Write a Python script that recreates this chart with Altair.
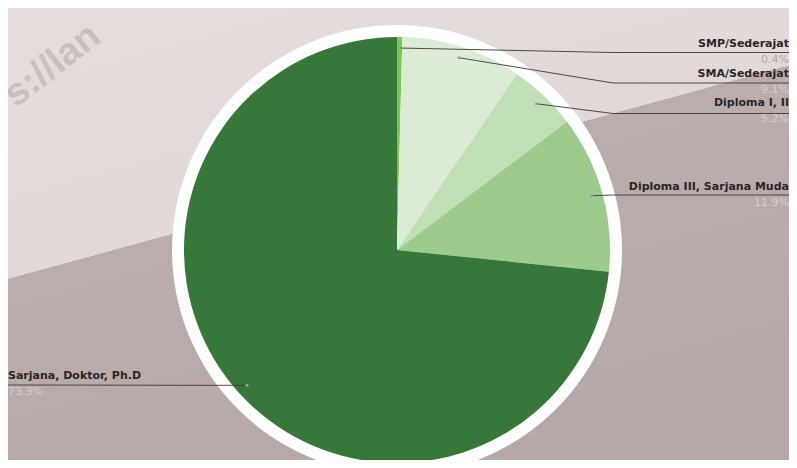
import altair as alt
import pandas as pd
import numpy as np

# ---------------- data ----------------
categories = ["SMP/Sederajat", "SMA/Sederajat", "Diploma I, II",
              "Diploma III, Sarjana Muda", "Sarjana, Doktor, Ph.D"]
percentages = [0.4, 9.1, 5.2, 11.9, 73.3]
pct_labels = ["0.4%", "9.1%", "5.2%", "11.9%", "73.3%"]
slice_colors = ["#7cc35a", "#dcebd6", "#c0dfb6", "#9ccb8c", "#38773a"]

# ---------------- layout ----------------
W, H = 781, 452
OFF = 8                       # page margin
CX, CY = 397 - OFF, 250 - OFF  # pie centre (chart px)
R = 213
RING = 225
ANCHOR_R = 202
BEND_X = 613 - OFF
RIGHT_X = W
LEFT_X = 0

label_side = ["right", "right", "right", "right", "left"]
line_y = [52.5 - OFF, 83 - OFF, 113.5 - OFF, 195 - OFF, 385 - OFF]
name_y = [44 - OFF, 74 - OFF, 103 - OFF, 187 - OFF, 376 - OFF]
pct_y = [60 - OFF, 90 - OFF, 119 - OFF, 203 - OFF, 392 - OFF]
pct_colors = ["#b3aaaa", "#d6cfcf", "#d6cfcf", "#d6cfcf", "#d3cbcb"]

FONT = "DejaVu Sans"

# ---------------- derived tables ----------------
vals = np.array(percentages)
total = vals.sum()
start = np.cumsum(vals) - vals
mid = (start + vals / 2) / total * 2 * np.pi
ax = CX + ANCHOR_R * np.sin(mid)
ay = CY - ANCHOR_R * np.cos(mid)

slices = pd.DataFrame({"category": categories, "value": percentages,
                       "idx": range(len(categories))})

seg_rows = []
for i, side in enumerate(label_side):
    if side == "right":
        seg_rows.append(dict(x=ax[i], y=ay[i], x2=BEND_X, y2=line_y[i]))
        seg_rows.append(dict(x=BEND_X, y=line_y[i], x2=RIGHT_X, y2=line_y[i]))
    else:
        seg_rows.append(dict(x=ax[i], y=ay[i], x2=LEFT_X, y2=line_y[i]))
segs = pd.DataFrame(seg_rows)

anchors = pd.DataFrame({"x": ax, "y": ay})

labels = pd.DataFrame({"name": categories, "pct": pct_labels, "side": label_side,
                       "ny": name_y, "py": pct_y, "pc": pct_colors})
right_lab = labels[labels.side == "right"]
left_lab = labels[labels.side == "left"]

one = pd.DataFrame({"k": [0]})

# ---------------- background ----------------
bg = alt.Chart(one).mark_rect(
    fill=alt.LinearGradient(
        gradient="linear", x1=0, y1=0, x2=0.4723, y2=1,
        stops=[alt.GradientStop(color="#e6dedd", offset=0),
               alt.GradientStop(color="#e1d8d7", offset=0.49),
               alt.GradientStop(color="#bcadad", offset=0.49),
               alt.GradientStop(color="#b7a8a8", offset=1)])
).encode(x=alt.value(0), x2=alt.value(W), y=alt.value(0), y2=alt.value(H))

watermark = alt.Chart(pd.DataFrame({"t": ["s://lan"]})).mark_text(
    align="left", baseline="alphabetic", angle=322, fontSize=38,
    fontWeight="bold", font="Liberation Sans", color="#c2b8b8", opacity=0.8
).encode(x=alt.value(8), y=alt.value(100), text="t:N")

ring = alt.Chart(one).mark_arc(
    radius=RING, theta=0, theta2=6.2832, fill="white"
).encode(x=alt.value(CX), y=alt.value(CY))

pie = alt.Chart(slices).mark_arc(radius=R).encode(
    theta=alt.Theta("value:Q", stack=True),
    color=alt.Color("category:N",
                    scale=alt.Scale(domain=categories, range=slice_colors),
                    legend=None),
    order=alt.Order("idx:Q"),
    x=alt.value(CX), y=alt.value(CY),
)

lines = alt.Chart(segs).mark_rule(color="#3f3535", strokeWidth=1, opacity=0.9).encode(
    x=alt.X("x:Q", scale=None), y=alt.Y("y:Q", scale=None),
    x2="x2:Q", y2="y2:Q")

dots = alt.Chart(anchors).mark_circle(size=9, color="#a0a0a0", opacity=1).encode(
    x=alt.X("x:Q", scale=None), y=alt.Y("y:Q", scale=None))

rn = alt.Chart(right_lab).mark_text(
    align="right", baseline="middle", font=FONT, fontSize=11,
    fontWeight="bold", color="#2b2626"
).encode(x=alt.value(RIGHT_X), y=alt.Y("ny:Q", scale=None), text="name:N")
rp = alt.Chart(right_lab).mark_text(
    align="right", baseline="middle", font=FONT, fontSize=11
).encode(x=alt.value(RIGHT_X), y=alt.Y("py:Q", scale=None), text="pct:N",
         color=alt.Color("pc:N", scale=None))
ln = alt.Chart(left_lab).mark_text(
    align="left", baseline="middle", font=FONT, fontSize=11,
    fontWeight="bold", color="#2b2626"
).encode(x=alt.value(LEFT_X), y=alt.Y("ny:Q", scale=None), text="name:N")
lp = alt.Chart(left_lab).mark_text(
    align="left", baseline="middle", font=FONT, fontSize=11
).encode(x=alt.value(LEFT_X), y=alt.Y("py:Q", scale=None), text="pct:N",
         color=alt.Color("pc:N", scale=None))

chart = alt.layer(bg, watermark, ring, pie, lines, dots, rn, rp, ln, lp).properties(
    width=W, height=H,
    autosize=alt.AutoSizeParams(type="none"),
    padding=0,
    background="#b8a9a9",
).configure_view(stroke=None)

chart.save("out.html", embed_options={"renderer": "svg", "actions": False})
